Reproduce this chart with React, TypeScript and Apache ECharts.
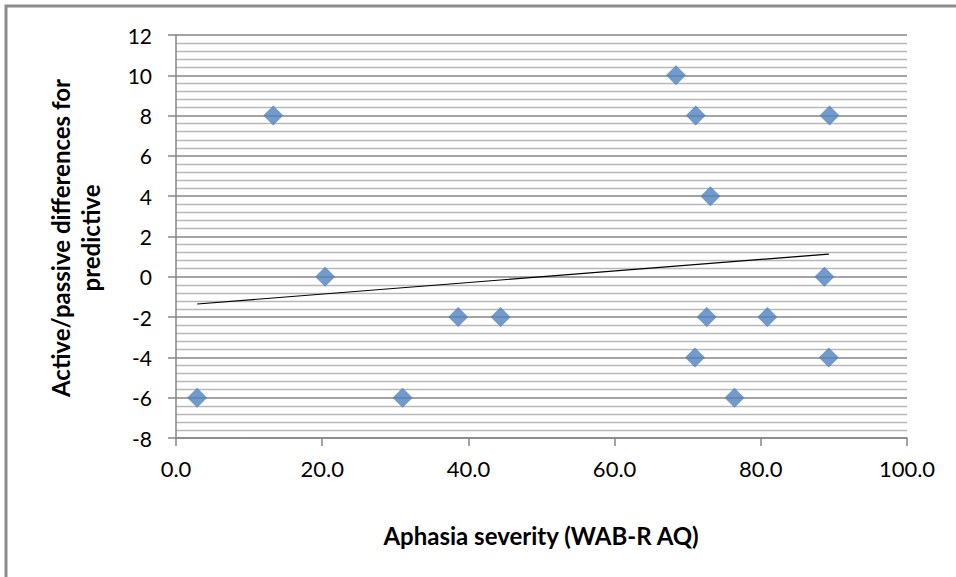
import React, { useEffect, useRef } from "react";
import * as echarts from "echarts";

const severity = [2.9, 13.3, 20.4, 31.0, 38.6, 44.4, 68.4, 71.1, 89.4, 73.1, 88.7, 72.6, 80.9, 71.0, 89.3, 76.4];
const difference = [-6, 8, 0, -6, -2, -2, 10, 8, 8, 4, 0, -2, -2, -4, -4, -6];
const trendX = [2.9, 89.3];
const trendY = [-1.35, 1.13];

const xTitle = "Aphasia severity (WAB-R AQ)";
const yTitle = "Active/passive differences for\npredictive";

const FONT = "Lato, 'Open Sans', sans-serif";

export default function App() {
  const ref = useRef<HTMLDivElement>(null);
  useEffect(() => {
    if (!ref.current) return;
    const chart = echarts.init(ref.current, undefined, { renderer: "svg" });
    chart.setOption({
      animation: false,
      backgroundColor: "#ffffff",
      grid: { left: 176, right: 49, top: 35, bottom: 139, containLabel: false },
      xAxis: {
        type: "value",
        min: 0,
        max: 100,
        interval: 20,
        axisLine: { show: true, onZero: false, lineStyle: { color: "#868686", width: 1.5 } },
        axisTick: { show: true, inside: false, length: 8, lineStyle: { color: "#868686", width: 1.5 } },
        axisLabel: {
          margin: 19,
          fontSize: 22,
          fontFamily: FONT,
          color: "#000",
          formatter: (v: number) => v.toFixed(1),
        },
        splitLine: { show: false },
      },
      yAxis: {
        type: "value",
        min: -8,
        max: 12,
        interval: 2,
        axisLine: { show: true, onZero: false, lineStyle: { color: "#868686", width: 1.5 } },
        axisTick: { show: true, inside: false, length: 8, lineStyle: { color: "#868686", width: 1.5 } },
        axisLabel: { margin: 24, fontSize: 21, fontFamily: FONT, color: "#000" },
        splitLine: { show: true, lineStyle: { color: "#868686", width: 1.5 } },
        minorTick: { show: false, splitNumber: 5 },
        minorSplitLine: { show: true, lineStyle: { color: "#b8b8b8", width: 1.3 } },
      },
      series: [
        {
          type: "line",
          data: trendX.map((x, i) => [x, trendY[i]]),
          showSymbol: false,
          symbol: "none",
          lineStyle: { color: "#000", width: 1.2 },
          z: 3,
        },
        {
          type: "scatter",
          data: severity.map((x, i) => [x, difference[i]]),
          symbol: "diamond",
          symbolSize: [20, 20],
          itemStyle: { color: "#4f81bd" },
          z: 4,
        },
      ],
      graphic: [
        {
          type: "rect",
          shape: { x: 6, y: 6, width: 1000, height: 1000 },
          style: { fill: "none", stroke: "#8c8c8c", lineWidth: 3 },
          silent: true,
        },
        {
          type: "text",
          x: 541,
          y: 535,
          style: {
            text: xTitle,
            font: `bold 24px ${FONT}`,
            fill: "#000",
            align: "center",
            verticalAlign: "middle",
          },
        },
        {
          type: "text",
          x: 75,
          y: 238,
          rotation: Math.PI / 2,
          style: {
            text: yTitle,
            font: `bold 24px ${FONT}`,
            fill: "#000",
            align: "center",
            verticalAlign: "middle",
            lineHeight: 30,
          },
        },
      ],
    });
    return () => chart.dispose();
  }, []);
  return (
    <div
      ref={ref}
      style={{ position: "fixed", left: 0, top: 0, width: 956, height: 577, background: "#fff" }}
    />
  );
}
